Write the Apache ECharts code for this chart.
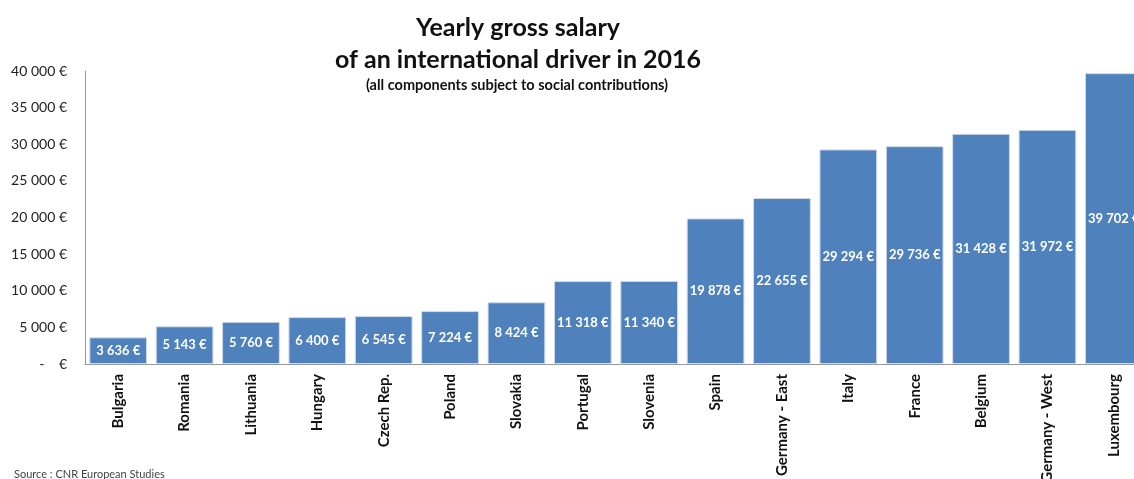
<!DOCTYPE html>
<html>
<head>
<meta charset="utf-8">
<script src="https://cdn.jsdelivr.net/npm/echarts@6/dist/echarts.min.js"></script>
<style>
html,body{margin:0;padding:0;background:#fff;overflow:hidden;}
#chart{width:1134px;height:479px;}
</style>
</head>
<body>
<div id="chart"></div>
<script>
const categories = ["Bulgaria","Romania","Lithuania","Hungary","Czech Rep.","Poland","Slovakia","Portugal","Slovenia","Spain","Germany - East","Italy","France","Belgium","Germany - West","Luxembourg"];
const salaries = [3636,5143,5760,6400,6545,7224,8424,11318,11340,19878,22655,29294,29736,31428,31972,39702];

function fmt(v){
  return String(Math.round(v)).replace(/\B(?=(\d{3})+(?!\d))/g, ' ') + ' €';
}

const chart = echarts.init(document.getElementById('chart'));
chart.setOption({
  animation: false,
  textStyle: { fontFamily: 'Lato' },
  title: [
    {
      text: 'Yearly gross salary\nof an international driver in 2016',
      left: 513, top: 7, textAlign: 'center',
      textStyle: { fontFamily: 'Lato', fontSize: 25, fontWeight: 'bold', color: '#111', lineHeight: 32 }
    },
    {
      text: '(all components subject to social contributions)',
      left: 512, top: 73, textAlign: 'center',
      textStyle: { fontFamily: 'Lato', fontSize: 14.5, fontWeight: 'bold', color: '#111' }
    },
    {
      text: 'Source : CNR European Studies',
      left: 9, top: 464,
      textStyle: { fontFamily: 'Lato', fontSize: 11, fontWeight: 'normal', color: '#444' }
    }
  ],
  grid: { left: 85, width: 1062, top: 71, bottom: 115, containLabel: false, outerBoundsMode: 'none' },
  xAxis: {
    type: 'category',
    data: categories,
    axisLine: { lineStyle: { color: '#999', width: 1 } },
    axisTick: { show: false },
    axisLabel: { rotate: 90, interval: 0, margin: 10, fontSize: 15, fontWeight: 'bold', color: '#111', fontFamily: 'Lato' }
  },
  yAxis: {
    type: 'value',
    min: 0, max: 40000, interval: 5000,
    splitLine: { show: false },
    axisLine: { show: true, lineStyle: { color: '#999', width: 1 } },
    axisTick: { show: false },
    axisLabel: {
      margin: 18, fontSize: 14, color: '#222', fontFamily: 'Lato',
      formatter: v => v === 0 ? '-    €' : fmt(v)
    }
  },
  series: [{
    type: 'bar',
    data: salaries,
    barCategoryGap: '13%',
    itemStyle: { color: '#4f81bd', borderColor: '#d0dcec', borderWidth: 1 },
    label: {
      show: true, position: 'inside',
      formatter: p => fmt(p.value),
      color: '#fff', fontSize: 13, fontWeight: 'bold', fontFamily: 'Lato'
    }
  }]
});
</script>
</body>
</html>
